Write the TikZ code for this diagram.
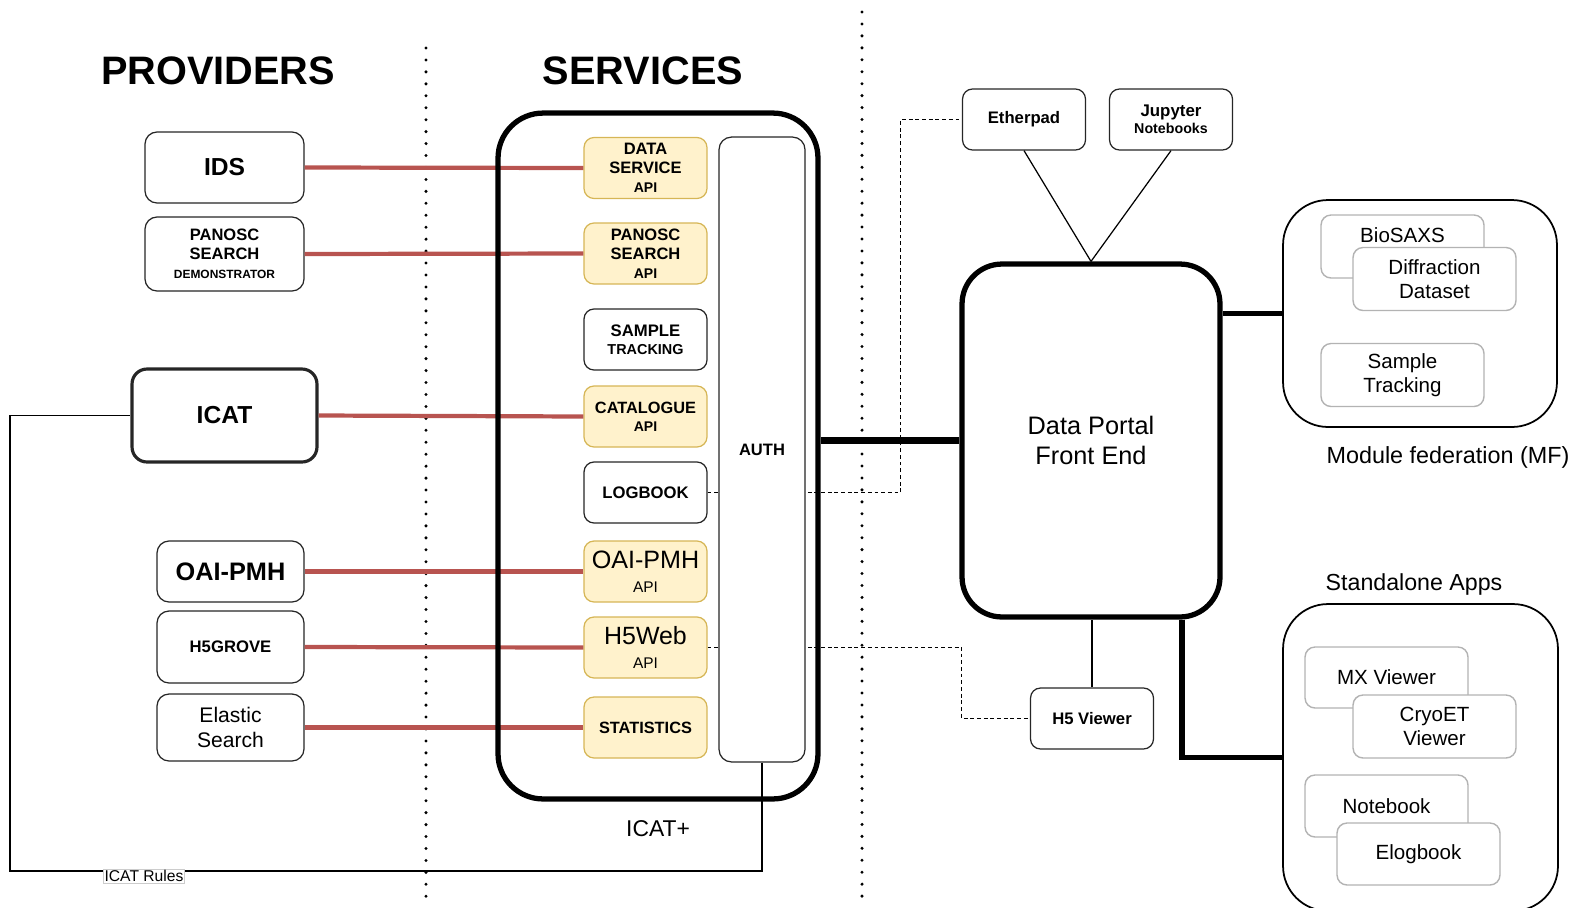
\documentclass[tikz,border=0pt]{standalone}
\usepackage{fontspec}
\setmainfont{Liberation Sans}
\usetikzlibrary{calc}
\definecolor{redl}{HTML}{B85450}
\definecolor{yfill}{HTML}{FFF2CC}
\definecolor{ydraw}{HTML}{D6B656}
\definecolor{gbord}{HTML}{B3B3B3}
\newcommand{\fs}[2]{\fontsize{#1}{#2}\selectfont}
\begin{document}
\begin{tikzpicture}[x=0.02cm,y=-0.02cm,
  pbox/.style={draw=black!85, line width=0.7pt, rounded corners=0.24cm, align=center, inner sep=0pt, fill=white},
  wbox/.style={draw=black!85, line width=0.7pt, rounded corners=0.2cm, align=center, inner sep=0pt, fill=white, minimum width=2.46cm, minimum height=1.22cm},
  ybox/.style={wbox, fill=yfill, draw=ydraw},
  gbox/.style={draw=gbord, line width=0.8pt, rounded corners=0.2cm, align=center, inner sep=0pt, fill=white, minimum width=3.26cm, minimum height=1.26cm, font=\fs{11.7}{14}},
  redline/.style={draw=redl, line width=2.4pt},
  dotline/.style={line width=1.9pt, dash pattern=on 0pt off 6.8pt, line cap=round},
  dashline/.style={line width=0.65pt, dash pattern=on 2.2pt off 1.6pt},
  ttl/.style={font=\fs{22.6}{26}\bfseries},
  plain/.style={inner sep=0pt}
]
\useasboundingbox (0,0) rectangle (1575,907);
\draw[dotline] (426,48) -- (426,907);
\draw[dotline] (862,12) -- (862,907);
\node[ttl] (tprov) at (218,71) {PROVIDERS};
\node[ttl] (tserv) at (643,71) {SERVICES};

% providers
\node[pbox, minimum width=3.18cm, minimum height=1.42cm, font=\fs{14}{16}\bfseries] (ids) at (224.5,167.5) {IDS};
\node[pbox, minimum width=3.18cm, minimum height=1.48cm, font=\fs{9.4}{10.8}\bfseries] (pdemo) at (224.5,254) {PANOSC\\SEARCH\\\fs{6.8}{10.8}DEMONSTRATOR};
\node[pbox, line width=1.8pt, rounded corners=0.3cm, minimum width=3.7cm, minimum height=1.86cm, font=\fs{14}{16}\bfseries] (icat) at (224.5,415.5) {ICAT};
\node[pbox, minimum width=2.94cm, minimum height=1.22cm, font=\fs{14.4}{16}\bfseries] (oaip) at (230.5,571.5) {OAI-PMH};
\node[pbox, minimum width=2.94cm, minimum height=1.44cm, font=\fs{9.5}{11}\bfseries] (h5g) at (230.5,647) {H5GROVE};
\node[pbox, minimum width=2.94cm, minimum height=1.34cm, font=\fs{12}{14}] (elastic) at (230.5,727.5) {Elastic\\Search};

% services
\node[ybox, font=\fs{9.4}{10.8}\bfseries] (ds) at (645.5,168) {DATA\\SERVICE\\\fs{8}{10.8}API};
\node[ybox, font=\fs{9.4}{10.8}\bfseries] (ps) at (645.5,253.5) {PANOSC\\SEARCH\\\fs{8}{10.8}API};
\node[wbox, font=\fs{9.5}{10.2}\bfseries] (st) at (645.5,339.5) {SAMPLE\\\fs{8.2}{10.2}TRACKING};
\node[ybox, font=\fs{9.3}{10.2}\bfseries] (cat) at (645.5,416.5) {CATALOGUE\\\fs{8}{10.2}API};
\node[wbox, font=\fs{9.5}{11}\bfseries] (log) at (645.5,492.5) {LOGBOOK};
\node[ybox, font=\fs{14.3}{13.6}] (oais) at (645.5,571.5) {OAI-PMH\\\fs{8.8}{13.6}API};
\node[ybox, font=\fs{14.2}{13.6}] (h5w) at (645.5,647.5) {H5Web\\\fs{8.8}{13.6}API};
\node[ybox, font=\fs{9.3}{11}\bfseries] (stat) at (645.5,727.5) {STATISTICS};

% front end and tools
\node[draw, line width=3pt, rounded corners=0.8cm, minimum width=5.16cm, minimum height=7.06cm, align=center, font=\fs{14.4}{17}] (fe) at (1091,440.5) {Data Portal\\Front End};
\node[wbox, font=\fs{9.5}{11}\bfseries] (ether) at (1024,119.5) {Etherpad};
\node[wbox, font=\fs{9.6}{9.6}\bfseries] (jup) at (1171,119.5) {Jupyter\\\fs{8.1}{9.6}Notebooks};
\node[wbox, font=\fs{9.5}{11}\bfseries] (h5v) at (1092,718.5) {H5 Viewer};

\draw[line width=0.7pt] (ether.south) -- (fe.north);
\draw[line width=0.7pt] (jup.south) -- (fe.north);
\draw[line width=0.7pt] (h5v.north) -- (h5v.north |- fe.south);

% dashed links
\draw[dashline] (log.east) -| ($(ether.west)+(-61,0)$) -- (ether.west);
\draw[dashline] (h5w.east) -| ($(h5v.west)+(-68,0)$) -- (h5v.west);

% auth
\node[wbox, rounded corners=0.25cm, minimum width=1.72cm, minimum height=12.5cm, font=\fs{9.4}{11}\bfseries] (auth) at (762,449.5) {AUTH};

% red links
\draw[redline] (ids.east) -- (ds.west);
\draw[redline] (pdemo.east) -- (ps.west);
\draw[redline] (icat.east) -- (cat.west);
\draw[redline] (oaip.east) -- (oais.west);
\draw[redline] (h5g.east) -- (h5w.west);
\draw[redline] (elastic.east) -- (stat.west);

% ICAT+ container
\node[draw, line width=3pt, rounded corners=0.9cm, minimum width=6.4cm, minimum height=13.72cm] (icatp) at (658,456) {};
\node[font=\fs{13}{15}] (icatpl) at (658,829) {ICAT+};

% ICAT rules loop
\coordinate (rl) at (10,871);
\draw[line width=1.1pt] (auth.south) |- (rl) |- (icat.west);
\node[draw=gray!40, fill=white, line width=0.3pt, inner sep=0.6pt, font=\fs{8.9}{10}] (rules) at (144,876) {ICAT Rules};

% module federation
\node[draw, line width=1pt, rounded corners=0.9cm, minimum width=5.48cm, minimum height=4.54cm] (mf) at (1420,313.5) {};
\node[gbox] (bio) at (1402.5,246.5) {};
\node[font=\fs{11.7}{14}] (biot) at (1402.5,235) {BioSAXS};
\node[gbox] (diff) at (1434.5,279) {Diffraction\\Dataset};
\node[gbox] (smpt) at (1402.5,375) {Sample\\Tracking};
\node[font=\fs{13.3}{15}] (mfl) at (1448,457) {Module federation (MF)};

% standalone apps
\node[draw, line width=1pt, rounded corners=0.9cm, minimum width=5.5cm, minimum height=6.14cm] (sa) at (1420.5,757.5) {};
\node[font=\fs{13.2}{15}] (sal) at (1414,584) {Standalone Apps};
\node[gbox, minimum height=1.22cm] (mx) at (1386.5,677.5) {MX Viewer};
\node[gbox] (cryo) at (1434.5,726.5) {CryoET\\Viewer};
\node[gbox, minimum height=1.24cm] (nb) at (1386.5,806) {Notebook};
\node[gbox, minimum height=1.24cm] (elog) at (1418.5,854) {Elogbook};

% thick links
\draw[line width=4.5pt] (fe.west) -- (fe.west -| icatp.east);
\draw[line width=3pt] (mf.west) -- (mf.west -| fe.east);
\coordinate (fesa) at ($(fe.south)+(91,0)$);
\draw[line width=3pt] (fesa) |- (sa.west);
\end{tikzpicture}
\end{document}
